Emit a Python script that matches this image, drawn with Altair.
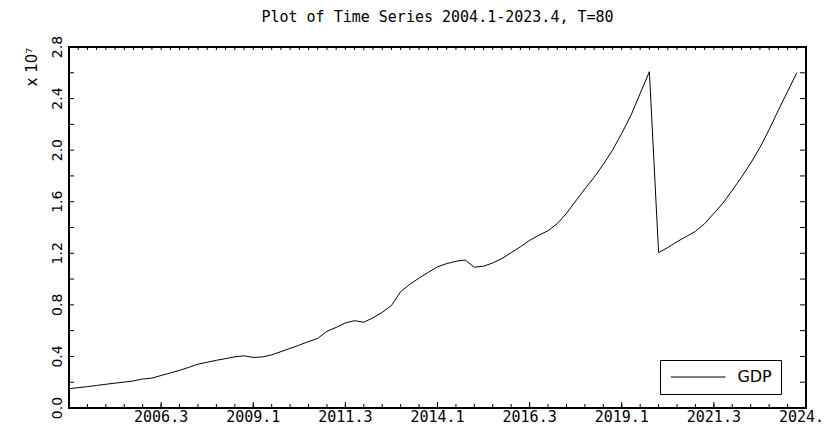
import altair as alt
import pandas as pd

# ---------------- data (values in units of 10^7) ----------------
quarter_index = list(range(80))          # 0 = 2004.1 ... 79 = 2023.4
gdp = [
    0.150, 0.158, 0.166, 0.175, 0.184, 0.193, 0.201, 0.210, 0.225, 0.232,
    0.252, 0.272, 0.292, 0.315, 0.340, 0.355, 0.370, 0.383, 0.397, 0.405,
    0.392, 0.396, 0.412, 0.437, 0.462, 0.488, 0.515, 0.540, 0.595, 0.625,
    0.660, 0.677, 0.665, 0.700, 0.742, 0.795, 0.902, 0.960, 1.008, 1.052,
    1.095, 1.120, 1.138, 1.148, 1.092, 1.100, 1.125, 1.160, 1.205, 1.250,
    1.300, 1.340, 1.375, 1.430, 1.510, 1.605, 1.700, 1.790, 1.890, 2.000,
    2.130, 2.270, 2.440, 2.608, 1.205, 1.245, 1.290, 1.330, 1.370, 1.430,
    1.510, 1.590, 1.690, 1.790, 1.900, 2.020, 2.160, 2.310, 2.455, 2.600,
]
series_name = "GDP"
x_tick_values = [10, 20, 30, 40, 50, 60, 70, 80]
x_tick_labels = ["2006.3", "2009.1", "2011.3", "2014.1", "2016.3", "2019.1", "2021.3", "2024.1"]
y_tick_values = [0.0, 0.4, 0.8, 1.2, 1.6, 2.0, 2.4, 2.8]
y_minor_ticks = [0.0, 0.2, 0.4, 0.6, 0.8, 1.0, 1.2, 1.4, 1.6, 1.8, 2.0, 2.2, 2.4, 2.6, 2.8]
x_bottom_ticks = list(range(0, 81, 2))
x_top_ticks = list(range(0, 81))
y_axis_title = "x 10⁷"
chart_title = "Plot of Time Series 2004.1-2023.4, T=80"

# ---------------- layout ----------------
W, H = 737, 361
MONO = "DejaVu Sans Mono"
SANS = "DejaVu Sans"

df = pd.DataFrame({"t": quarter_index, "value": gdp, "series": [series_name] * len(gdp)})
xscale = alt.Scale(domain=[0, 80], nice=False, zero=False)
yscale = alt.Scale(domain=[0, 2.8], nice=False, zero=False)

legend = alt.Legend(
    orient="none", legendX=591, legendY=313, title=None, strokeColor="black",
    fillColor="white", padding=9, symbolType="M-1.22,0H9.7", symbolSize=100,
    symbolStrokeWidth=1, symbolStrokeColor="black", symbolFillColor="transparent",
    labelOffset=52.4, labelFont=SANS, labelFontSize=16, labelColor="black",
)

line = alt.Chart(df).mark_line(strokeWidth=1, color="black").encode(
    x=alt.X("t:Q", scale=xscale, axis=None),
    y=alt.Y("value:Q", scale=yscale, axis=None),
    color=alt.Color("series:N", scale=alt.Scale(range=["black"]), legend=legend),
)

# axis tick marks (pointing inward, as in the reference)
ydf = pd.DataFrame({"value": y_minor_ticks})
left_ticks = alt.Chart(ydf).mark_rule(color="black", strokeWidth=1).encode(
    y=alt.Y("value:Q", scale=yscale, axis=None), x=alt.value(0), x2=alt.value(5)
)
right_ticks = alt.Chart(ydf).mark_rule(color="black", strokeWidth=1).encode(
    y=alt.Y("value:Q", scale=yscale, axis=None), x=alt.value(W - 6), x2=alt.value(W)
)
bottom_minor = alt.Chart(pd.DataFrame({"t": x_bottom_ticks})).mark_rule(color="black", strokeWidth=1).encode(
    x=alt.X("t:Q", scale=xscale, axis=None), y=alt.value(H), y2=alt.value(H - 4)
)
bottom_major = alt.Chart(pd.DataFrame({"t": x_tick_values})).mark_rule(color="black", strokeWidth=1).encode(
    x=alt.X("t:Q", scale=xscale, axis=None), y=alt.value(H), y2=alt.value(H - 6)
)
top_ticks = alt.Chart(pd.DataFrame({"t": x_top_ticks})).mark_rule(color="black", strokeWidth=1).encode(
    x=alt.X("t:Q", scale=xscale, axis=None), y=alt.value(0), y2=alt.value(3)
)

# axis labels
x_labels = alt.Chart(pd.DataFrame({"t": x_tick_values, "label": x_tick_labels})).mark_text(
    font=MONO, fontSize=15, baseline="top", align="center", color="black"
).encode(x=alt.X("t:Q", scale=xscale, axis=None), y=alt.value(H + 2), text="label:N")

y_labels = alt.Chart(pd.DataFrame({"value": y_tick_values})).mark_text(
    font=SANS, fontSize=14, baseline="alphabetic", align="center", angle=270, color="black"
).encode(
    y=alt.Y("value:Q", scale=yscale, axis=None), x=alt.value(-7),
    text=alt.Text("value:Q", format=".1f"),
)

y_title = alt.Chart(pd.DataFrame({"label": [y_axis_title]})).mark_text(
    font=SANS, fontSize=15, baseline="middle", align="center", angle=270, color="black"
).encode(x=alt.value(-37), y=alt.value(20), text="label:N")

chart = alt.layer(
    line, left_ticks, right_ticks, bottom_minor, bottom_major, top_ticks,
    x_labels, y_labels, y_title,
).properties(
    width=W, height=H,
    title=alt.Title(
        chart_title, font=MONO, fontSize=15, fontWeight="normal", color="black",
        anchor="middle", frame="group", offset=13, baseline="alphabetic", dy=14,
    ),
    autosize=alt.AutoSizeParams(type="none"),
    padding={"left": 61, "top": 39, "right": 15, "bottom": 19},
    background="white",
).configure_view(stroke="black", strokeWidth=2)

chart.save("out.html", embed_options={"renderer": "svg", "actions": False})
